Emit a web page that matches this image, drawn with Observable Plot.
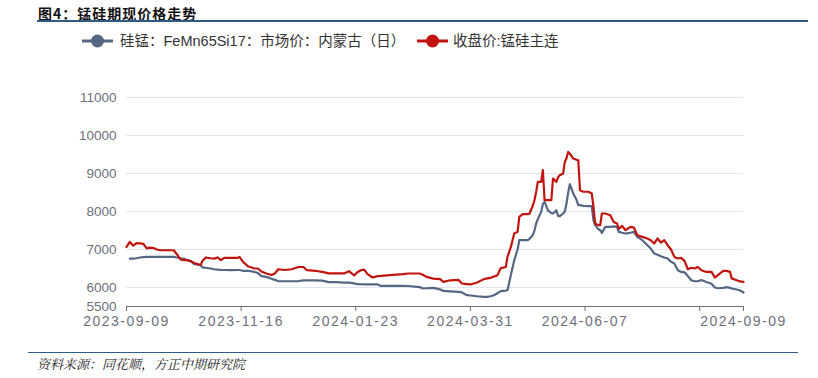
<!DOCTYPE html>
<html>
<head>
<meta charset="utf-8">
<script src="https://cdn.jsdelivr.net/npm/d3@7"></script>
<script src="https://cdn.jsdelivr.net/npm/@observablehq/plot@0.6"></script>
<style>
  html, body { margin: 0; padding: 0; background: #fff; }
  #wrap { position: relative; width: 818px; height: 378px; overflow: hidden; background: #fff; }
  .abs { position: absolute; white-space: nowrap; }
  #title { left: 38px; top: 3px; font: bold 14px "Noto Sans CJK SC", sans-serif; letter-spacing: 1px; color: #111; }
  #rule1 { left: 37px; top: 20px; width: 771px; height: 2px; background: #2f5b8a; }
  #legend { left: 0; top: 30px; height: 22px; font: 14.5px "Liberation Sans", "Noto Sans CJK SC", sans-serif; color: #333; }
  #rule2 { left: 28px; top: 352px; width: 770px; height: 1px; background: #2f5b8a; }
  #foot { left: 37px; top: 354px; font: italic 13px "Noto Serif CJK SC", "Noto Sans CJK SC", serif; color: #222; }
  #chart { left: 0; top: 0; }
  .xax text { letter-spacing: 1.5px; font-size: 14px; }
</style>
</head>
<body>
<div id="wrap">
  <div id="chart" class="abs"></div>
  <div id="title" class="abs"></div>
  <div id="rule1" class="abs"></div>
  <div id="legend" class="abs"></div>
  <div id="rule2" class="abs"></div>
  <div id="foot" class="abs"></div>
</div>
<script>
const titleText = "图4：锰硅期现价格走势";
const footText = "资料来源：同花顺，方正中期研究院";
const seriesNames = ["硅锰：FeMn65Si17：市场价：内蒙古（日）", "收盘价:锰硅主连"];
const seriesColors = ["#556782", "#c1140e"];
const startDate = "2023-09-09";
const endDate = "2024-09-09";
const xTickDates = ["2023-09-09", "2023-11-16", "2024-01-23", "2024-03-31", "2024-06-07", "2024-08-14", "2024-09-09"];
const xTickLabelled = ["2023-09-09", "2023-11-16", "2024-01-23", "2024-03-31", "2024-06-07", "2024-09-09"];
const yTicks = [5500, 6000, 7000, 8000, 9000, 10000, 11000];
const yGrid = [6000, 7000, 8000, 9000, 10000, 11000];

// day offsets from startDate
const dayOffsets = [0,2,4,6,8,10,12,14,16,18,
20,24,28,30,32,34,36,38,40,42,
44,45,47,50,52,54,56,58,62,66,
67,69,72,76,78,80,83,86,88,90,
94,98,102,105,107,112,116,120,124,129,
132,135,137,139,141,143,146,149,151,158,
164,167,174,176,178,182,186,188,192,197,
199,202,204,208,212,214,216,218,220,222,
225,226,228,230,232,233,235,238,239,241,
242,243,244,246,247,248,250,252,253,255,
256,257,259,260,261,262,263,265,267,268,
269,271,274,276,277,278,280,281,282,284,
287,289,291,292,294,296,299,301,303,306,
309,311,313,315,317,319,321,323,325,327,
329,331,333,335,337,339,341,344,347,349,
351,354,356,358,359,362,364,366];

const spotValues = [null,6760,6760,6770,6790,6800,6805,6805,6805,6805,
6805,6805,6805,6790,6770,6760,6720,6700,6620,6600,
6590,6530,6520,6500,6480,6470,6460,6460,6455,6460,
6460,6440,6440,6410,6380,6300,6280,6230,6200,6170,
6165,6165,6170,6190,6190,6190,6180,6140,6140,6130,
6130,6110,6087,6085,6080,6080,6080,6080,6042,6042,
6042,6040,6010,5974,5980,5990,5950,5911,5900,5884,
5870,5797,5790,5770,5755,5753,5770,5797,5850,5905,
5920,5930,6330,6718,7000,7245,7245,7245,7280,7376,
7500,7684,7800,7990,8200,8253,8030,7960,7947,8034,
7880,7876,7947,8000,8210,8500,8718,8474,8300,8166,
8166,8150,8140,8140,7771,7640,7530,7508,7437,7596,
7596,7610,7596,7464,7440,7420,7440,7464,7332,7245,
7113,7026,6895,6860,6823,6790,6763,6675,6630,6455,
6410,6400,6300,6190,6165,6165,6200,6147,6100,6000,
5980,5990,6010,5990,5974,5947,5920,5868];

const futuresValues = [7070,7200,7100,7170,7160,7150,7030,7050,7040,7000,
6980,6980,6980,6870,6740,6720,6720,6690,6650,6620,
6590,6700,6790,6770,6760,6790,6720,6780,6780,6780,
6805,6680,6560,6500,6500,6420,6370,6330,6370,6480,
6460,6480,6540,6540,6455,6440,6410,6370,6370,6370,
6430,6320,6400,6455,6470,6350,6263,6300,6305,6330,
6350,6368,6368,6330,6280,6235,6220,6147,6190,6200,
6105,6090,6080,6130,6220,6240,6255,6290,6320,6510,
6540,6805,7068,7420,7464,7858,7930,7930,7940,8150,
8297,8516,8780,8780,9087,8297,8297,8300,8868,8780,
8900,8955,9000,9305,9400,9568,9520,9394,9360,9350,
8560,8520,8520,8474,8122,7684,7640,7640,7947,7947,
7900,7726,7684,7540,7620,7508,7596,7580,7376,7332,
7290,7245,7157,7290,7180,7245,7113,7000,6805,6763,
6780,6700,6480,6520,6500,6540,6455,6410,6410,6263,
6330,6437,6437,6410,6240,6190,6160,6147];

const parse = s => new Date(s + "T00:00:00Z");
const t0 = parse(startDate).getTime();
const dates = dayOffsets.map(d => new Date(t0 + d * 864e5));
const spotRows = dates.map((date, i) => ({date, value: spotValues[i]})).filter(d => d.value != null);
const futRows = dates.map((date, i) => ({date, value: futuresValues[i]}));
const labelled = new Set(xTickLabelled);
const fmt = d3.utcFormat("%Y-%m-%d");

const chart = Plot.plot({
  width: 818,
  height: 340,
  marginTop: 97,
  marginLeft: 126,
  marginRight: 75,
  marginBottom: 34,
  style: {fontFamily: "'Liberation Sans', Arial, sans-serif", fontSize: "13.5px", color: "#6E7079", background: "transparent", overflow: "visible"},
  x: {type: "utc", domain: [parse(startDate), parse(endDate)]},
  y: {domain: [5500, 11000]},
  marks: [
    Plot.gridY(yGrid, {stroke: "#E0E6F1", strokeOpacity: 1, strokeWidth: 1}),
    Plot.axisY(yTicks, {tickSize: 0, tickPadding: 10, label: null, fill: "#6E7079", tickFormat: d => String(d)}),
    Plot.ruleY([5500], {stroke: "#6E7079", strokeWidth: 1}),
    Plot.axisX(xTickDates.map(parse), {tickSize: 5, tickPadding: 5, label: null, stroke: "#6E7079", fill: "#6E7079",
      className: "xax", tickFormat: d => labelled.has(fmt(d)) ? fmt(d) : ""}),
    Plot.line(spotRows, {x: "date", y: "value", stroke: seriesColors[0], strokeWidth: 2.2}),
    Plot.line(futRows, {x: "date", y: "value", stroke: seriesColors[1], strokeWidth: 2.2})
  ]
});
document.getElementById("chart").appendChild(chart);

document.getElementById("title").textContent = titleText;
document.getElementById("foot").textContent = footText;

// legend
const leg = document.getElementById("legend");
const legendItems = [{x: 82, tx: 120}, {x: 417, tx: 453}];
legendItems.forEach((it, i) => {
  const ns = "http://www.w3.org/2000/svg";
  const svg = document.createElementNS(ns, "svg");
  svg.setAttribute("width", 32); svg.setAttribute("height", 22);
  svg.style.position = "absolute"; svg.style.left = it.x + "px"; svg.style.top = "0px";
  const line = document.createElementNS(ns, "line");
  line.setAttribute("x1", 0); line.setAttribute("x2", 31); line.setAttribute("y1", 11); line.setAttribute("y2", 11);
  line.setAttribute("stroke", seriesColors[i]); line.setAttribute("stroke-width", 3);
  const c = document.createElementNS(ns, "circle");
  c.setAttribute("cx", 15.5); c.setAttribute("cy", 11); c.setAttribute("r", 6.5);
  c.setAttribute("fill", seriesColors[i]);
  svg.appendChild(line); svg.appendChild(c);
  leg.appendChild(svg);
  const t = document.createElement("div");
  t.className = "abs";
  t.style.left = it.tx + "px"; t.style.top = "2px"; t.style.lineHeight = "18px";
  t.textContent = seriesNames[i];
  leg.appendChild(t);
});
</script>
</body>
</html>
